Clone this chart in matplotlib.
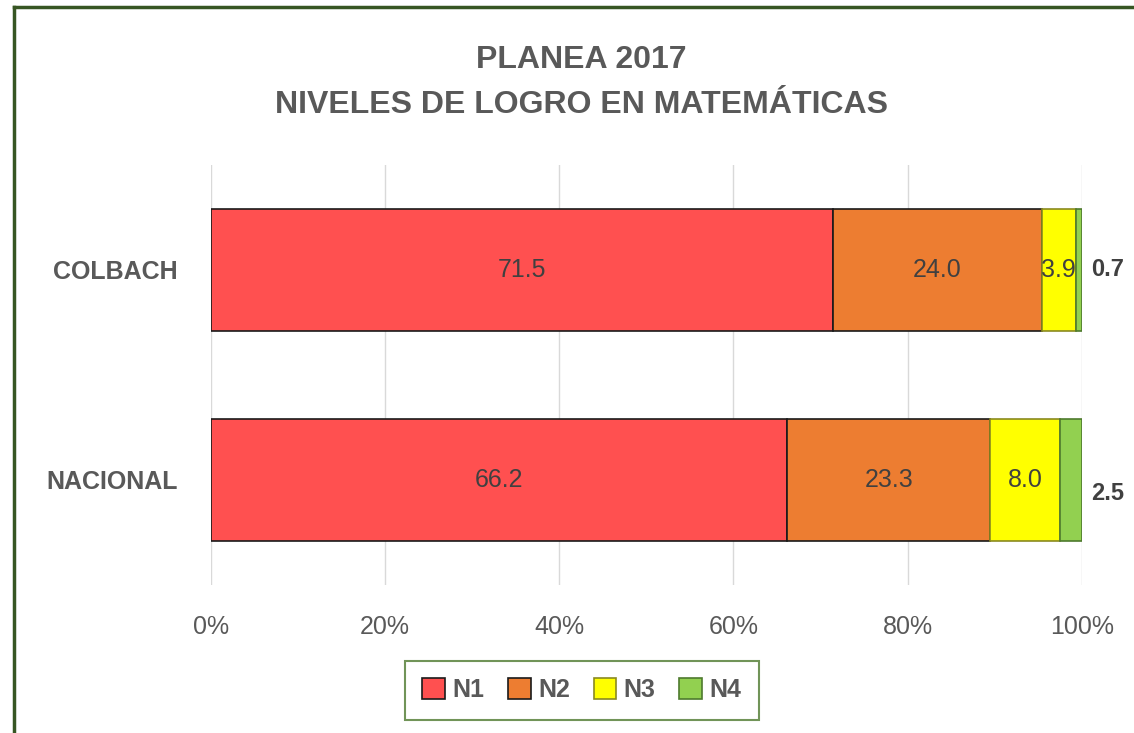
import matplotlib.pyplot as plt
import matplotlib.lines as mlines
import numpy as np

categories = ["NACIONAL", "COLBACH"]
levels = ["N1", "N2", "N3", "N4"]
n1 = [66.2, 71.5]
n2 = [23.3, 24.0]
n3 = [8.0, 3.9]
n4 = [2.5, 0.7]

colors = ["#FF5050", "#ED7D31", "#FFFF00", "#92D050"]
edges = ["#1a1a1a", "#1a1a1a", "#8a8a20", "#4e7a2e"]
text_gray = "#595959"
label_gray = "#404040"

plt.rcParams["font.family"] = ["Liberation Sans", "DejaVu Sans"]

fig = plt.figure(figsize=(11.34, 7.33), dpi=100)
ax = fig.add_axes([0.186, 0.202, 0.768, 0.573])

values = np.array([n1, n2, n3, n4], dtype=float)
totals = values.sum(axis=0)
shares = values / totals * 100
y = np.arange(len(categories))
left = np.zeros(len(categories))
bars = []
for i, lvl in enumerate(levels):
    b = ax.barh(y, shares[i], left=left, height=0.58, color=colors[i],
                edgecolor=edges[i], linewidth=1.2, label=lvl, zorder=3)
    bars.append(b)
    left += shares[i]

# data labels inside bars for N1-N3 (clipped to the bar, as in the original)
for i in range(3):
    for j, rect in enumerate(bars[i]):
        cx = rect.get_x() + rect.get_width() / 2
        t = ax.text(cx, y[j], f"{values[i][j]:.1f}", ha="center", va="center",
                    fontsize=18, color=label_gray, zorder=4)
        t.set_clip_path(rect)

# N4 labels outside, bold
for j, rect in enumerate(bars[3]):
    ax.annotate(f"{values[3][j]:.1f}", xy=(100, y[j]), xytext=(7, -10 if j == 0 else 0),
                textcoords="offset points", ha="left", va="center",
                fontsize=17, fontweight="bold", color=label_gray,
                annotation_clip=False)

ax.set_xlim(0, 100)
ax.set_ylim(-0.5, 1.5)
ax.set_xticks(np.arange(0, 101, 20))
ax.set_xticklabels([f"{v}%" for v in range(0, 101, 20)])
ax.set_yticks(y)
ax.set_yticklabels(categories, fontweight="bold")
ax.tick_params(axis="x", length=0, pad=22, labelsize=18, labelcolor=text_gray)
ax.tick_params(axis="y", length=0, pad=24, labelsize=18, labelcolor=text_gray)
ax.grid(axis="x", color="#d9d9d9", linewidth=1, zorder=0)
for s in ax.spines.values():
    s.set_visible(False)

fig.text(0.513, 0.918, "PLANEA 2017", ha="center", va="center",
         fontsize=23, fontweight="bold", color=text_gray)
fig.text(0.513, 0.857, "NIVELES DE LOGRO EN MATEMÁTICAS", ha="center", va="center",
         fontsize=23, fontweight="bold", color=text_gray)

leg = fig.legend(loc="center", bbox_to_anchor=(0.513, 0.058), ncol=4,
                 frameon=True, fancybox=False, handlelength=0.9,
                 handleheight=0.9, handletextpad=0.3, columnspacing=0.95,
                 borderpad=0.7, prop={"weight": "bold", "size": 18})
leg.get_frame().set_edgecolor("#4e7a2e")
leg.get_frame().set_linewidth(1.5)
for txt in leg.get_texts():
    txt.set_color(text_gray)

# outer chart-area border (top and left visible in the crop)
fig.add_artist(mlines.Line2D([0.0125, 1.0], [0.991, 0.991], color="#375623", linewidth=2.5))
fig.add_artist(mlines.Line2D([0.0125, 0.0125], [0.0, 0.991], color="#375623", linewidth=2.5))

fig.savefig("out.png", dpi=100)
